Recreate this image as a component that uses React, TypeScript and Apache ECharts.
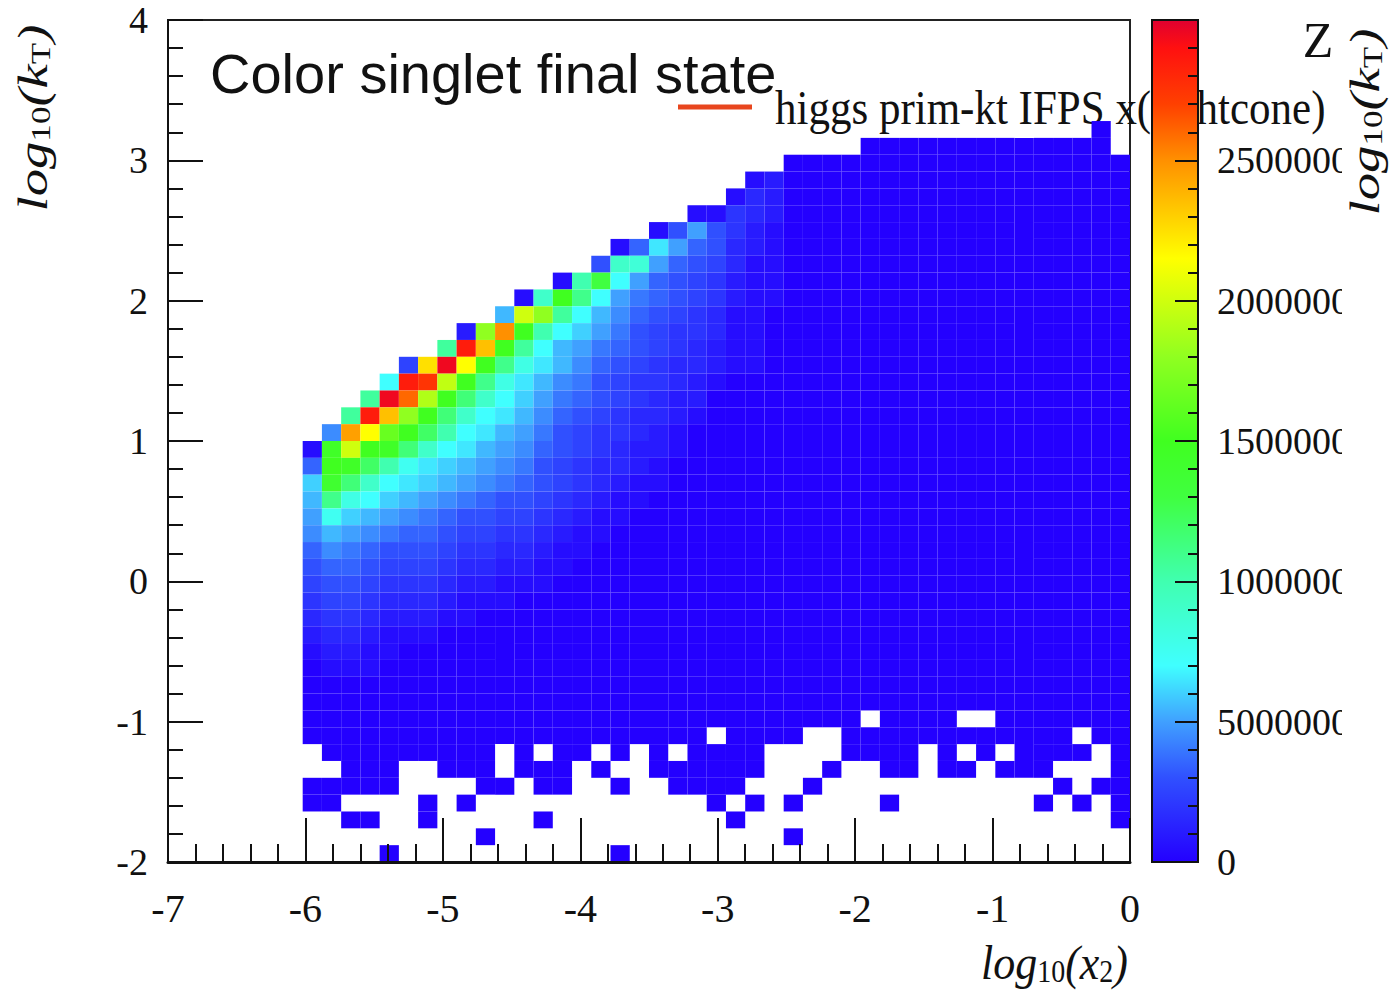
import React, { useEffect, useRef } from "react";
import * as echarts from "echarts";

// ---------- axis ranges / binning ----------
const X_MIN = -7;
const X_MAX = 0;
const Y_MIN = -2;
const Y_MAX = 4;
const N_X_BINS = 50;
const N_Y_BINS = 50;
const Z_MAX = 30000000;
const Z_STEP = 5000000;

// ---------- cell contents ----------
// One string per y-bin, from the top bin (49) down to the bottom bin (0);
// one character per x-bin (0..49), grouped by 10 for readability.
// "." = empty bin, otherwise the level index in LEVEL_CODES times LEVEL_UNIT.
const LEVEL_CODES = "0123456789abcdefghijklmnopqrstuvwxyzABCDEFGHIJKLMNOPQRSTUVWXYZ";
const LEVEL_UNIT = 500000;

const BIN_ROWS = [
  ".......... .......... .......... .......... ..........",
  ".......... .......... .......... .......... ..........",
  ".......... .......... .......... .......... ..........",
  ".......... .......... .......... .......... ..........",
  ".......... .......... .......... .......... ..........",
  ".......... .......... .......... .......... ..........",
  ".......... .......... .......... .......... ........0.",
  ".......... .......... .......... ......0000 000000000.",
  ".......... .......... .......... ..00000000 0000000000",
  ".......... .......... .......... 1200000000 0000000000",
  ".......... .......... .........1 3200000000 0000000000",
  ".......... .......... .......114 3200000000 0000000000",
  ".......... .......... .....16a64 2100000000 0000000000",
  ".......... .......... ...17da763 2100000000 0000000000",
  ".......... .......... ..6iha7653 1100000000 0000000000",
  ".......... .......... 1kqea76542 1100000000 0000000000",
  ".......... ........1i umea876542 1100000000 0000000000",
  ".......... .......bEA leb9765431 1000000000 0000000000",
  ".......... .....2AOuk eca8654431 1000000000 0000000000",
  ".......... ....lVLule ba87654321 1000000000 0000000000",
  ".......... ..5JXHumgd b976543321 1000000000 0000000000",
  ".......... .eVTDumgdb 9865443210 0000000000 0000000000",
  ".......... lXQCunieca 8765432200 0000000000 0000000000",
  ".........l VLAuniedb9 7654332100 0000000000 0000000000",
  "........9N Hxuokedba8 6544321000 0000000000 0000000000",
  ".......1tE utniedba97 6543221000 0000000000 0000000000",
  ".......7ut okfdcba986 5433210000 0000000000 0000000000",
  ".......csn iedcba9876 5432110000 0000000000 0000000000",
  ".......bmg ecba987665 4321100000 0000000000 0000000000",
  ".......afc ba98766554 3211000000 0000000000 0000000000",
  ".......9ba 9877655443 2110000000 0000000000 0000000000",
  ".......798 7666544332 1100000000 0000000000 0000000000",
  ".......677 6555433221 1000000000 0000000000 0000000000",
  ".......566 5444322111 0000000000 0000000000 0000000000",
  ".......455 4333211100 0000000000 0000000000 0000000000",
  ".......344 3222110000 0000000000 0000000000 0000000000",
  ".......233 2111000000 0000000000 0000000000 0000000000",
  ".......122 1100000000 0000000000 0000000000 0000000000",
  ".......011 1000000000 0000000000 0000000000 0000000000",
  ".......000 0000000000 0000000000 0000000000 0000000000",
  ".......000 0000000000 0000000000 0000000000 0000000000",
  ".......000 0000000000 0000000000 000000.000 0..0000000",
  ".......000 0000000000 00000000.0 000..00000 0000000.00",
  "........00 0000000.0. 00.0.0.000 0....0000. 0.0.0000.0",
  ".........0 00..000.00 0.0..00000 0...0..00. 00.000...0",
  ".......000 00....00.0 0..0..0000 ...0...... ......0.00",
  ".......00. ...0.0.... ........0. 0.0....0.. .....0.0.0",
  ".........0 0..0.....0 .........0 .......... .........0",
  ".......... ......0... .......... ..0....... ..........",
  ".......... .0........ ...0...... .......... ..........",
];

// colour scale stops: [value in millions, colour]
const PALETTE_STOPS: [number, string][] = [
  [0, "#2400ff"],
  [3, "#3050ff"],
  [5, "#40a0ff"],
  [7, "#40ffff"],
  [10, "#40ffb0"],
  [13, "#40ff40"],
  [15, "#40ff20"],
  [18, "#90ff20"],
  [21.5, "#ffff00"],
  [23.5, "#ffc000"],
  [25, "#ff9000"],
  [27, "#ff4000"],
  [29, "#ff1010"],
  [30, "#e00030"],
];

const TITLE_TEXT = "Color singlet final state";
const LEGEND_TEXT = "higgs prim-kt IFPS x(lightcone)";
const Z_TEXT = "Z";

const SERIF = '"Liberation Serif", "DejaVu Serif", serif';
const SANS = '"Liberation Sans", Arial, sans-serif';

function hexToRgb(h: string): number[] {
  return [parseInt(h.slice(1, 3), 16), parseInt(h.slice(3, 5), 16), parseInt(h.slice(5, 7), 16)];
}
function colorAt(vM: number): string {
  for (let i = 0; i < PALETTE_STOPS.length - 1; i++) {
    const [v0, c0] = PALETTE_STOPS[i];
    const [v1, c1] = PALETTE_STOPS[i + 1];
    if (vM >= v0 && vM <= v1) {
      const t = (vM - v0) / (v1 - v0);
      const a = hexToRgb(c0);
      const b = hexToRgb(c1);
      const m = a.map((x, k) => Math.round(x + (b[k] - x) * t));
      return `rgb(${m[0]},${m[1]},${m[2]})`;
    }
  }
  return PALETTE_STOPS[PALETTE_STOPS.length - 1][1];
}

const X_W = (X_MAX - X_MIN) / N_X_BINS;
const Y_W = (Y_MAX - Y_MIN) / N_Y_BINS;

function buildCells(): number[][] {
  const cells: number[][] = [];
  BIN_ROWS.forEach((s, i) => {
    const row = s.replace(/ /g, "");
    const r = N_Y_BINS - 1 - i;
    for (let c = 0; c < row.length; c++) {
      const ch = row[c];
      if (ch === ".") continue;
      cells.push([X_MIN + c * X_W, Y_MIN + r * Y_W, LEVEL_CODES.indexOf(ch) * LEVEL_UNIT]);
    }
  });
  return cells;
}

const labelRich = (main: number, sub: number) => ({
  i: { fontFamily: SERIF, fontStyle: "italic", fontSize: main, lineHeight: main + 2, fill: "#111", verticalAlign: "bottom" },
  s: { fontFamily: SERIF, fontSize: sub, lineHeight: sub, fill: "#111", verticalAlign: "bottom" },
});

export default function App() {
  const ref = useRef<HTMLDivElement>(null);

  useEffect(() => {
    if (!ref.current) return;
    const chart = echarts.init(ref.current, undefined, { renderer: "svg" });
    const cells = buildCells();
    const palette: string[] = [];
    for (let i = 0; i <= Z_MAX / LEVEL_UNIT; i++) palette.push(colorAt((i * LEVEL_UNIT) / 1e6));
    const gradStops = PALETTE_STOPS.map(([v, c]) => ({ offset: (v * 1e6) / Z_MAX, color: c }));

    const tickStyle = { color: "#111", width: 2 };

    const option: any = {
      animation: false,
      backgroundColor: "#fff",
      grid: [
        { left: 168, top: 20, width: 962, height: 842, show: true, borderColor: "#222", borderWidth: 2, backgroundColor: "transparent" },
        { left: 1152, top: 20, width: 46, height: 842, show: false },
      ],
      xAxis: [
        {
          type: "value",
          gridIndex: 0,
          min: X_MIN,
          max: X_MAX,
          interval: 1,
          z: 10,
          axisLine: { show: true, onZero: false, lineStyle: { color: "#111", width: 3 } },
          axisTick: { show: true, inside: true, length: 44, lineStyle: tickStyle },
          minorTick: { show: true, splitNumber: 5, length: 18, lineStyle: tickStyle },
          axisLabel: { fontFamily: SERIF, fontSize: 40, color: "#111", margin: 26 },
          splitLine: { show: false },
          minorSplitLine: { show: false },
        },
        { type: "value", gridIndex: 1, min: 0, max: 1, show: false },
      ],
      yAxis: [
        {
          type: "value",
          gridIndex: 0,
          min: Y_MIN,
          max: Y_MAX,
          interval: 1,
          z: 10,
          axisLine: { show: true, onZero: false, lineStyle: { color: "#111", width: 2 } },
          axisTick: { show: true, inside: true, length: 35, lineStyle: tickStyle },
          minorTick: { show: true, splitNumber: 5, length: 15, lineStyle: tickStyle },
          axisLabel: { fontFamily: SERIF, fontSize: 38, color: "#111", margin: 20 },
          splitLine: { show: false },
          minorSplitLine: { show: false },
        },
        {
          type: "value",
          gridIndex: 1,
          position: "right",
          min: 0,
          max: Z_MAX,
          interval: Z_STEP,
          z: 10,
          axisLine: { show: true, onZero: false, lineStyle: { color: "#111", width: 2 } },
          axisTick: { show: true, inside: true, length: 23, lineStyle: tickStyle },
          minorTick: { show: true, splitNumber: 5, length: 10, lineStyle: tickStyle },
          axisLabel: {
            fontFamily: SERIF,
            fontSize: 38,
            color: "#111",
            margin: 19,
            showMaxLabel: false,
            formatter: (v: number) => String(v),
          },
          splitLine: { show: false },
          minorSplitLine: { show: false },
        },
      ],
      visualMap: {
        type: "continuous",
        show: false,
        min: 0,
        max: Z_MAX,
        dimension: 2,
        seriesIndex: 0,
        inRange: { color: palette },
      },
      series: [
        {
          type: "custom",
          xAxisIndex: 0,
          yAxisIndex: 0,
          dimensions: ["x", "y", "z"],
          encode: { x: 0, y: 1 },
          data: cells,
          renderItem: (_p: any, api: any) => {
            const x0 = api.value(0) as number;
            const y0 = api.value(1) as number;
            const a = api.coord([x0, y0 + Y_W]);
            const b = api.coord([x0 + X_W, y0]);
            return {
              type: "rect",
              shape: { x: a[0], y: a[1], width: b[0] - a[0], height: b[1] - a[1] },
              style: { fill: api.visual("color") },
            };
          },
        },
        {
          type: "custom",
          xAxisIndex: 1,
          yAxisIndex: 1,
          data: [[0, 0]],
          renderItem: (_p: any, api: any) => {
            const a = api.coord([0, Z_MAX]);
            const b = api.coord([1, 0]);
            return {
              type: "rect",
              shape: { x: a[0], y: a[1], width: b[0] - a[0], height: b[1] - a[1] },
              style: {
                fill: new echarts.graphic.LinearGradient(0, 1, 0, 0, gradStops),
                stroke: "#111",
                lineWidth: 2,
              },
            };
          },
        },
      ],
      graphic: {
        elements: [
          {
            type: "text",
            x: 210,
            y: 73,
            z: 1,
            style: { text: TITLE_TEXT, font: `56px ${SANS}`, fill: "#111", align: "left", verticalAlign: "middle" },
          },
          {
            type: "line",
            z: 1,
            shape: { x1: 678, y1: 107, x2: 752, y2: 107 },
            style: { stroke: "#e8461e", lineWidth: 5 },
          },
          {
            type: "text",
            x: 775,
            y: 108,
            z: 1,
            scaleY: 1.12,
            style: { text: LEGEND_TEXT, font: `43px ${SERIF}`, fill: "#111", align: "left", verticalAlign: "middle" },
          },
          {
            type: "rect",
            z: 50,
            shape: { x: 1342, y: 132, width: 48, height: 760 },
            style: { fill: "#fff" },
          },
          {
            type: "text",
            x: 1318,
            y: 40,
            z: 60,
            style: { text: Z_TEXT, font: `50px ${SERIF}`, fill: "#111", align: "center", verticalAlign: "middle" },
          },
          {
            type: "text",
            x: 1364,
            y: 122,
            z: 60,
            rotation: Math.PI / 2,
            scaleX: 1.3,
            style: {
              text: "{i|log}{s|10}{i|(k}{s|T}{i|)}",
              rich: labelRich(42, 27),
              align: "center",
              verticalAlign: "middle",
            },
          },
          {
            type: "text",
            x: 32,
            y: 118,
            z: 1,
            rotation: Math.PI / 2,
            scaleX: 1.3,
            style: {
              text: "{i|log}{s|10}{i|(k}{s|T}{i|)}",
              rich: labelRich(42, 27),
              align: "center",
              verticalAlign: "middle",
            },
          },
          {
            type: "text",
            x: 1128,
            y: 962,
            z: 1,
            scaleY: 1.1,
            style: {
              text: "{i|log}{s|10}{i|(x}{s|2}{i|)}",
              rich: labelRich(44, 28),
              align: "right",
              verticalAlign: "middle",
            },
          },
        ],
      },
    };

    chart.setOption(option);
    return () => chart.dispose();
  }, []);

  return (
    <div
      ref={ref}
      style={{ position: "fixed", left: 0, top: 0, width: 1390, height: 992, background: "#fff" }}
    />
  );
}
